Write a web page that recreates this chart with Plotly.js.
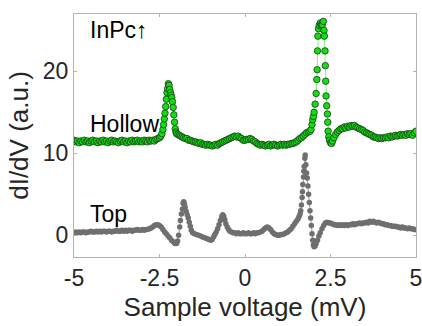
<!DOCTYPE html>
<html>
<head>
<meta charset="utf-8">
<script src="https://cdn.plot.ly/plotly-3.0.1.min.js"></script>
<style>
  html, body { margin: 0; padding: 0; background: #fff; }
  #chart { width: 422px; height: 326px; }
</style>
</head>
<body>
<div id="chart"></div>
<script>
// dI/dV spectra of InPc: hollow site (offset) and top site, vs sample voltage (mV)

const hollowV = [
  -5.00,-4.95,-4.90,-4.85,-4.80,-4.75,-4.70,-4.65,-4.60,-4.55,-4.50,-4.45,-4.40,-4.35,-4.30,-4.25,-4.20,-4.15,-4.10,-4.05,
  -4.00,-3.95,-3.90,-3.85,-3.80,-3.75,-3.70,-3.65,-3.60,-3.55,-3.50,-3.45,-3.40,-3.35,-3.30,-3.25,-3.20,-3.15,-3.10,-3.05,
  -3.00,-2.95,-2.90,-2.85,-2.80,-2.75,-2.70,-2.65,-2.60,-2.55,-2.50,-2.46,-2.43,-2.40,-2.38,-2.36,-2.34,-2.32,-2.30,-2.28,
  -2.26,-2.24,-2.22,-2.20,-2.18,-2.16,-2.14,-2.12,-2.10,-2.08,-2.06,-2.04,-2.02,-2.00,-1.96,-1.92,-1.88,-1.84,-1.80,-1.75,
  -1.70,-1.65,-1.60,-1.55,-1.50,-1.45,-1.40,-1.35,-1.30,-1.25,-1.20,-1.15,-1.10,-1.05,-1.00,-0.95,-0.90,-0.85,-0.80,-0.75,
  -0.70,-0.65,-0.60,-0.55,-0.50,-0.45,-0.40,-0.35,-0.30,-0.25,-0.20,-0.15,-0.10,-0.05,0.00,0.05,0.10,0.15,0.20,0.25,
  0.30,0.35,0.40,0.45,0.50,0.55,0.60,0.65,0.70,0.75,0.80,0.85,0.90,0.95,1.00,1.05,1.10,1.15,1.20,1.25,
  1.30,1.35,1.40,1.45,1.50,1.55,1.60,1.65,1.70,1.75,1.80,1.85,1.90,1.93,1.96,1.98,2.00,2.02,2.05,2.08,
  2.10,2.11,2.12,2.13,2.15,2.17,2.20,2.23,2.26,2.29,2.31,2.32,2.34,2.35,2.36,2.37,2.39,2.41,2.42,2.43,
  2.45,2.47,2.50,2.53,2.56,2.60,2.65,2.70,2.75,2.80,2.85,2.90,2.95,3.00,3.05,3.10,3.15,3.20,3.25,3.30,
  3.35,3.40,3.45,3.50,3.55,3.60,3.65,3.70,3.75,3.80,3.85,3.90,3.95,4.00,4.05,4.10,4.15,4.20,4.25,4.30,
  4.35,4.40,4.45,4.50,4.55,4.60,4.65,4.70,4.75,4.80,4.85,4.90,4.95,5.00
];
const hollowG = [
  11.6,11.4,11.5,11.3,11.5,11.4,11.6,11.4,11.5,11.3,11.5,11.6,11.4,11.5,11.3,11.5,11.4,11.6,11.4,11.5,
  11.3,11.5,11.6,11.4,11.5,11.4,11.3,11.5,11.6,11.4,11.5,11.3,11.5,11.4,11.6,11.4,11.5,11.6,11.4,11.5,
  11.4,11.6,11.5,11.4,11.6,11.5,11.6,11.5,11.7,11.8,11.9,12.1,12.4,12.9,13.5,14.2,14.9,15.7,16.6,17.4,
  17.9,18.5,18.3,17.8,17.4,17.1,16.8,16.3,15.6,14.7,13.8,13.0,12.6,12.4,12.3,12.2,12.1,12.0,11.9,11.8,
  11.8,11.6,11.6,11.5,11.4,11.4,11.3,11.2,11.3,11.1,11.1,11.0,11.1,11.0,11.0,10.9,11.0,11.1,11.0,11.2,
  11.3,11.4,11.5,11.6,11.7,11.8,11.9,12.0,12.1,12.0,12.1,11.9,11.8,11.6,11.6,11.7,11.7,11.8,11.7,11.5,
  11.4,11.2,11.1,11.0,11.1,11.0,10.9,11.0,11.1,10.9,11.0,11.1,11.0,10.9,11.0,11.1,11.0,11.1,11.0,11.1,
  11.1,11.2,11.2,11.3,11.4,11.6,11.8,11.9,12.1,12.3,12.5,12.6,12.7,12.9,13.5,14.1,14.5,15.0,16.0,17.3,
  19.0,20.2,22.5,24.3,25.2,25.6,25.9,25.7,25.7,26.1,25.0,24.3,22.5,20.7,18.8,17.0,15.8,14.8,13.8,12.7,
  12.0,11.6,11.3,11.2,11.5,11.9,12.3,12.6,12.8,13.0,13.0,13.2,13.1,13.3,13.2,13.4,13.3,13.4,13.2,13.1,
  13.0,12.9,12.8,12.6,12.5,12.4,12.3,12.2,12.0,12.0,11.9,11.8,11.9,11.8,11.9,11.9,12.0,11.9,12.1,12.0,
  12.1,12.2,12.1,12.2,12.3,12.2,12.3,12.2,12.4,12.3,12.4,12.2,12.5,12.7
];

const topV = [
  -5.00,-4.95,-4.90,-4.85,-4.80,-4.75,-4.70,-4.65,-4.60,-4.55,-4.50,-4.45,-4.40,-4.35,-4.30,-4.25,-4.20,-4.15,-4.10,-4.05,
  -4.00,-3.95,-3.90,-3.85,-3.80,-3.75,-3.70,-3.65,-3.60,-3.55,-3.50,-3.45,-3.40,-3.35,-3.30,-3.25,-3.20,-3.15,-3.10,-3.05,
  -3.00,-2.95,-2.90,-2.85,-2.80,-2.75,-2.70,-2.65,-2.60,-2.55,-2.50,-2.45,-2.40,-2.35,-2.30,-2.25,-2.20,-2.15,-2.10,-2.05,
  -2.00,-1.97,-1.94,-1.91,-1.89,-1.86,-1.83,-1.81,-1.79,-1.77,-1.75,-1.72,-1.69,-1.66,-1.63,-1.60,-1.57,-1.53,-1.48,-1.42,
  -1.36,-1.30,-1.24,-1.18,-1.12,-1.06,-1.00,-0.96,-0.92,-0.88,-0.84,-0.80,-0.76,-0.72,-0.68,-0.65,-0.62,-0.59,-0.56,-0.52,
  -0.48,-0.44,-0.40,-0.35,-0.30,-0.25,-0.20,-0.15,-0.10,-0.05,0.00,0.05,0.10,0.15,0.20,0.25,0.30,0.35,0.40,0.45,
  0.50,0.55,0.60,0.65,0.70,0.75,0.80,0.85,0.90,0.95,1.00,1.05,1.10,1.15,1.20,1.25,1.30,1.35,1.40,1.45,
  1.50,1.55,1.58,1.61,1.63,1.65,1.67,1.68,1.69,1.71,1.72,1.73,1.75,1.76,1.78,1.80,1.82,1.84,1.86,1.88,
  1.90,1.92,1.94,1.96,1.98,2.00,2.02,2.05,2.08,2.12,2.16,2.20,2.25,2.30,2.35,2.40,2.45,2.50,2.55,2.60,
  2.65,2.70,2.75,2.80,2.85,2.90,2.95,3.00,3.05,3.10,3.15,3.20,3.25,3.30,3.35,3.40,3.45,3.50,3.55,3.60,
  3.65,3.70,3.75,3.80,3.85,3.90,3.95,4.00,4.05,4.10,4.15,4.20,4.25,4.30,4.35,4.40,4.45,4.50,4.55,4.60,
  4.65,4.70,4.75,4.80,4.85,4.90,4.95,5.00
];
const topG = [
  0.3,0.4,0.3,0.4,0.3,0.4,0.4,0.3,0.4,0.4,0.5,0.4,0.4,0.5,0.4,0.5,0.4,0.5,0.5,0.4,
  0.5,0.5,0.4,0.5,0.5,0.6,0.5,0.5,0.6,0.5,0.6,0.5,0.6,0.6,0.5,0.6,0.6,0.7,0.6,0.6,
  0.7,0.6,0.7,0.7,0.8,0.9,1.0,1.2,1.3,1.3,1.2,1.0,0.7,0.4,0.2,-0.1,-0.3,-0.6,-0.8,-1.0,
  -1.0,-0.7,0.0,1.0,1.8,2.6,3.2,3.9,4.1,3.8,3.4,2.9,2.5,2.1,1.6,1.1,0.6,0.3,0.2,0.1,
  0.0,-0.1,-0.2,-0.3,-0.4,-0.5,-0.6,-0.5,-0.2,0.1,0.4,0.8,1.3,1.8,2.3,2.5,2.3,1.9,1.4,1.0,
  0.7,0.5,0.4,0.3,0.3,0.2,0.3,0.2,0.2,0.3,0.2,0.2,0.3,0.2,0.2,0.3,0.2,0.3,0.3,0.4,
  0.5,0.7,0.9,1.0,0.9,0.7,0.4,0.2,0.1,0.0,0.0,0.1,0.1,0.2,0.3,0.4,0.6,0.8,1.1,1.4,
  1.7,2.0,2.3,2.6,3.0,3.7,4.6,5.3,6.2,7.1,7.8,8.4,9.4,9.8,8.6,7.6,7.0,6.0,5.0,4.0,
  3.0,2.1,1.2,0.2,-0.6,-1.2,-1.4,-1.3,-1.0,-0.6,-0.1,0.3,0.8,1.2,1.5,1.6,1.5,1.5,1.4,1.3,
  1.3,1.2,1.3,1.2,1.3,1.2,1.3,1.2,1.3,1.3,1.4,1.3,1.4,1.4,1.5,1.4,1.5,1.5,1.6,1.5,
  1.7,1.6,1.7,1.6,1.5,1.6,1.5,1.4,1.4,1.3,1.3,1.2,1.2,1.1,1.1,1.1,1.0,1.0,0.9,1.0,
  0.9,0.9,0.8,0.9,0.8,0.8,0.7,0.7
];

const xTicks = [-5, -2.5, 0, 2.5, 5];
const xTickText = ['-5', '-2.5', '0', '2.5', '5'];
const yTicks = [0, 10, 20];
const yTickText = ['0', '10', '20'];

const FONT = '"Liberation Sans", Arial, Helvetica, sans-serif';
const AXIS_GRAY = '#b3b3b3';
const LABEL_GRAY = '#262626';

const hollow = {
  x: hollowV, y: hollowG,
  type: 'scatter', mode: 'lines+markers',
  line: { color: '#86f086', width: 1 },
  marker: { size: 6.5, color: '#10e010', line: { color: '#1c3a1c', width: 0.8 } },
  hoverinfo: 'skip'
};

const top_ = {
  x: topV, y: topG,
  type: 'scatter', mode: 'lines+markers',
  line: { color: '#9a9a9a', width: 1 },
  marker: { size: 5.5, color: '#6f6f6f' },
  hoverinfo: 'skip'
};

const axisCommon = {
  showgrid: false, zeroline: false,
  showline: true, mirror: 'ticks', linecolor: AXIS_GRAY, linewidth: 1,
  ticks: 'inside', ticklen: 3, tickcolor: AXIS_GRAY, tickwidth: 1,
  ticklabeloverflow: 'allow',
  tickfont: { family: FONT, size: 23, color: LABEL_GRAY }
};

const layout = {
  width: 422, height: 326,
  margin: { l: 74, r: 6, t: 14, b: 69, pad: 0 },
  paper_bgcolor: '#ffffff', plot_bgcolor: '#ffffff',
  showlegend: false,
  font: { family: FONT, color: LABEL_GRAY },
  xaxis: Object.assign({}, axisCommon, {
    range: [-5, 5], tickmode: 'array', tickvals: xTicks, ticktext: xTickText,
    title: { text: 'Sample voltage (mV)', font: { family: FONT, size: 26, color: LABEL_GRAY }, standoff: 8 }
  }),
  yaxis: Object.assign({}, axisCommon, {
    range: [-2.65, 27.0], tickmode: 'array', tickvals: yTicks, ticktext: yTickText,
    title: { text: 'dI/dV (a.u.)', font: { family: FONT, size: 26, color: LABEL_GRAY }, standoff: 6 }
  }),
  annotations: [
    { text: 'InPc↑', xref: 'x', yref: 'y', x: -4.58, y: 25.0, xanchor: 'left', yanchor: 'middle',
      showarrow: false, font: { family: FONT, size: 23, color: '#000' } },
    { text: 'Hollow', xref: 'x', yref: 'y', x: -4.58, y: 13.6, xanchor: 'left', yanchor: 'middle',
      showarrow: false, font: { family: FONT, size: 23, color: '#000' } },
    { text: 'Top', xref: 'x', yref: 'y', x: -4.58, y: 2.6, xanchor: 'left', yanchor: 'middle',
      showarrow: false, font: { family: FONT, size: 23, color: '#000' } }
  ]
};

Plotly.newPlot('chart', [hollow, top_], layout, { staticPlot: true, displayModeBar: false });
</script>
</body>
</html>
